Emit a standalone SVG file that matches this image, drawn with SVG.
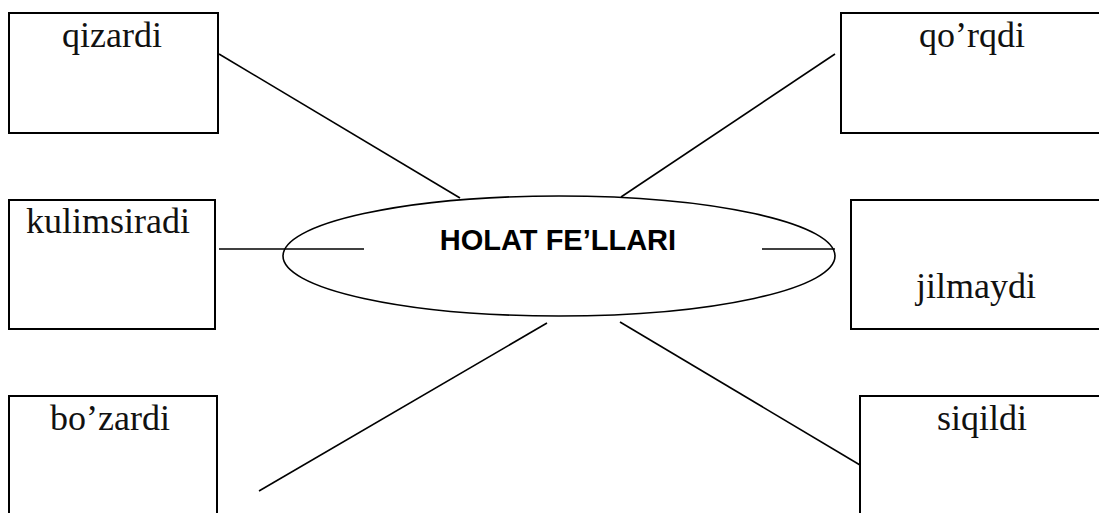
<svg xmlns="http://www.w3.org/2000/svg" width="1099" height="513" viewBox="0 0 1099 513">
<style>
.box{fill:#fff;stroke:#000;stroke-width:2}
.lbl{font-family:"Liberation Serif","Times New Roman",serif;font-size:36px;fill:#111;text-anchor:middle}
.conn line{stroke:#000;stroke-width:1.6}
.ell{fill:#fff;stroke:#000;stroke-width:1.6}
.title{font-family:"Liberation Sans",Arial,sans-serif;font-size:29px;font-weight:bold;fill:#000;text-anchor:middle}
</style>
<rect width="1099" height="513" fill="#fff"/>
<g id="center">
<ellipse class="ell" cx="559" cy="256" rx="276" ry="60"/>
<text class="title" x="558" y="250">HOLAT FE’LLARI</text>
</g>
<g id="qizardi"><rect class="box" x="9" y="13" width="209" height="120"/><text class="lbl" x="112" y="47">qizardi</text></g>
<g id="qorqdi"><rect class="box" x="841" y="13" width="265" height="120"/><text class="lbl" x="972" y="47">qo’rqdi</text></g>
<g id="kulimsiradi"><rect class="box" x="9" y="200" width="206" height="129"/><text class="lbl" x="108" y="233">kulimsiradi</text></g>
<g id="jilmaydi"><rect class="box" x="851" y="200" width="255" height="129"/><text class="lbl" x="976" y="298">jilmaydi</text></g>
<g id="bozardi"><rect class="box" x="9" y="396" width="208" height="130"/><text class="lbl" x="110" y="430">bo’zardi</text></g>
<g id="siqildi"><rect class="box" x="860" y="396" width="250" height="130"/><text class="lbl" x="982" y="430">siqildi</text></g>
<g id="connectors" class="conn">
<line x1="219" y1="54" x2="460" y2="198"/>
<line x1="835" y1="54" x2="621" y2="197"/>
<line x1="219" y1="249" x2="364" y2="249"/>
<line x1="762" y1="249" x2="835" y2="249"/>
<line x1="547" y1="323" x2="259" y2="491"/>
<line x1="620" y1="322" x2="860" y2="465"/>
</g>
</svg>
